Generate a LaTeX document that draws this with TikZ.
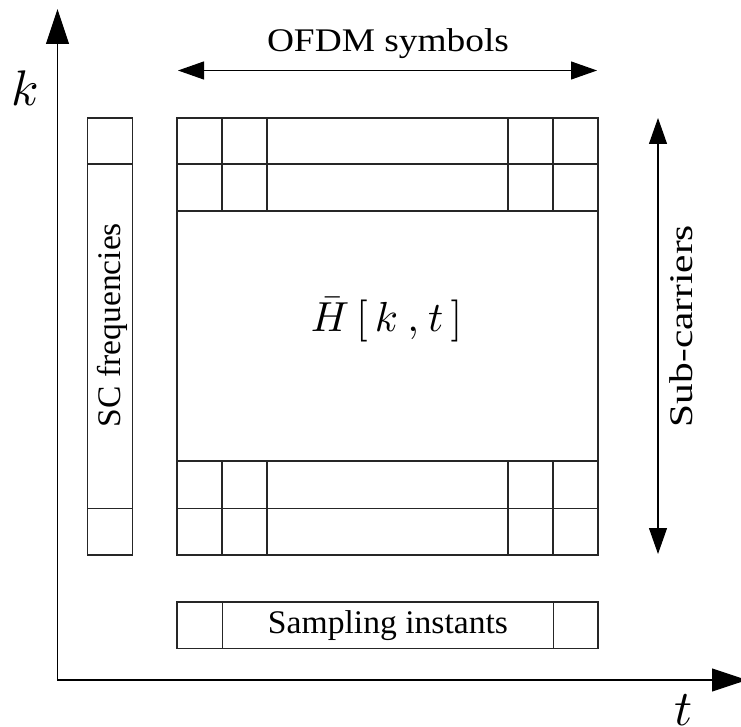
\documentclass[tikz,border=0pt]{standalone}
\usepackage{fontspec}
\setmainfont{Liberation Serif}
\usepackage{graphicx}
\usetikzlibrary{arrows.meta}
\begin{document}
\begin{tikzpicture}[x=1pt,y=-1pt,
  box/.style={draw=black!85, line width=1.1pt},
  lab/.style={font=\fontsize{33}{39}\selectfont, inner sep=0pt},
  axisarrow/.style={line width=1.1pt, {Triangle[length=35pt,width=23pt]}-{Triangle[length=35pt,width=23pt]}},
  dblarrow/.style={line width=1.1pt, {Triangle[length=26pt,width=18pt]}-{Triangle[length=26pt,width=18pt]}},
  axlab/.style={inner sep=0pt}]
\useasboundingbox (0,0) rectangle (741,727);
% axes
\coordinate (origin) at (57.5,680);
\coordinate (ytip) at (57.5,9);
\coordinate (xtip) at (747,680);
\draw[axisarrow] (ytip) -- (origin) -- (xtip);
\node[axlab] (klab) at (25,88) {\scalebox{5}{$k$}};
\node[axlab, anchor=base] (tlab) at (684,725) {\scalebox{5}{$t$}};
% OFDM symbols arrow
\coordinate (ofdmL) at (178,70.5);
\coordinate (ofdmR) at (597,70.5);
\draw[dblarrow] (ofdmL) -- (ofdmR);
\node[lab, anchor=base] (ofdm) at (388,52) {\resizebox{242pt}{\height}{OFDM symbols}};
% Sub-carriers arrow
\coordinate (scT) at (658,118);
\coordinate (scB) at (658,554);
\draw[dblarrow] (scT) -- (scB);
\node[lab, anchor=base, rotate=90] (subc) at (692,326) {\resizebox{202pt}{\height}{Sub-carriers}};
% SC frequencies column
\draw[box] (87.5,118) rectangle (132.5,555);
\draw[box] (87.5,164) -- (132.5,164);
\draw[box] (87.5,508.5) -- (132.5,508.5);
\node[lab, anchor=base, rotate=90] (scf) at (120.5,325) {\resizebox{204pt}{\height}{SC frequencies}};
% main grid
\draw[box] (177,118) rectangle (598,555);
\foreach \yy in {164,211,461,508.5} \draw[box] (177,\yy) -- (598,\yy);
\foreach \xx in {222,267,508,553} {
  \draw[box] (\xx,118) -- (\xx,211);
  \draw[box] (\xx,461) -- (\xx,555);
}
\node[inner sep=0pt] (H) at (386.5,320)
  {\scalebox{4.2}{$\bar{H}\mkern3mu[\mkern3mu k\mkern4mu,\mkern1mu t\mkern3mu]$}};
% sampling instants bar
\draw[box] (177,602) rectangle (598,648.5);
\draw[box] (222.5,602) -- (222.5,648.5);
\draw[box] (553.5,602) -- (553.5,648.5);
\node[lab, anchor=base] (samp) at (388,633) {\resizebox{240pt}{\height}{Sampling instants}};
\end{tikzpicture}
\end{document}
